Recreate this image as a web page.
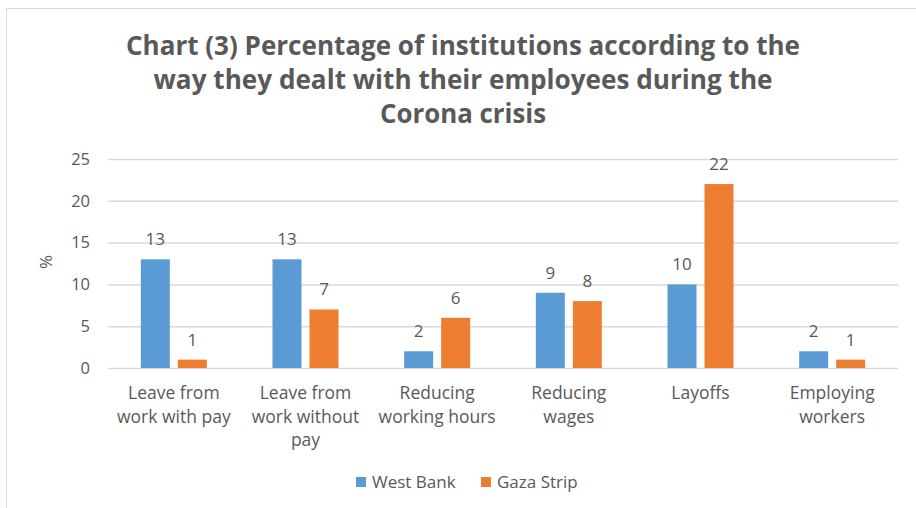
<!DOCTYPE html>
<html>
<head>
<meta charset="utf-8">
<script src="https://cdn.jsdelivr.net/npm/d3@7"></script>
<style>
  body { margin: 0; background: #fff; }
  text { font-family: "Open Sans", "DejaVu Sans", sans-serif; fill: #595959; }
</style>
</head>
<body>
<svg id="chart"></svg>
<script>
const categories = [
  "Leave from work with pay",
  "Leave from work without pay",
  "Reducing working hours",
  "Reducing wages",
  "Layoffs",
  "Employing workers"
];
const categoryLines = [
  ["Leave from", "work with pay"],
  ["Leave from", "work without", "pay"],
  ["Reducing", "working hours"],
  ["Reducing", "wages"],
  ["Layoffs"],
  ["Employing", "workers"]
];
const seriesNames = ["West Bank", "Gaza Strip"];
const westBank = [13, 13, 2, 9, 10, 2];
const gazaStrip = [1, 7, 6, 8, 22, 1];
const yTicks = [0, 5, 10, 15, 20, 25];
const titleLines = [
  "Chart (3) Percentage of institutions according to the",
  "way they dealt with their employees during the",
  "Corona crisis"
];

const colors = ["#5B9BD5", "#ED7D31"];

const getConfig = () => {
  const dimensions = {
    width: 916,
    height: 508,
    margin: { top: 159, bottom: 140, left: 108, right: 18 }
  };
  const svg = d3
    .select("#chart")
    .attr("width", dimensions.width)
    .attr("height", dimensions.height);
  return { container: svg, dimensions };
};

const getScales = config => {
  const { width, height, margin } = config.dimensions;
  const xScale = d3
    .scaleBand()
    .domain(categories)
    .range([margin.left, width - margin.right]);
  const yScale = d3
    .scaleLinear()
    .domain([0, 25])
    .range([height - margin.bottom, margin.top]);
  return { xScale, yScale };
};

const drawFrame = config => {
  const { container, dimensions } = config;
  container
    .append("rect")
    .attr("x", 6.5)
    .attr("y", 8.5)
    .attr("width", dimensions.width + 20)
    .attr("height", dimensions.height + 20)
    .attr("fill", "#fff")
    .attr("stroke", "#D9D9D9")
    .attr("stroke-width", 1);
};

const drawTitle = config => {
  const { container } = config;
  const targetWidths = [674, 619, 166];
  const baselines = [55, 89, 123];
  titleLines.forEach((line, i) => {
    container
      .append("text")
      .attr("x", 463)
      .attr("y", baselines[i])
      .attr("text-anchor", "middle")
      .attr("font-size", 26.5)
      .attr("font-weight", "bold")
      .attr("textLength", targetWidths[i])
      .attr("lengthAdjust", "spacingAndGlyphs")
      .text(line);
  });
};

const drawAxes = (config, scales) => {
  const { container, dimensions } = config;
  const { xScale, yScale } = scales;
  const { width, margin } = dimensions;

  const yAxis = d3
    .axisLeft(yScale)
    .tickValues(yTicks)
    .tickSize(-(width - margin.left - margin.right))
    .tickPadding(18);

  const yG = container
    .append("g")
    .attr("transform", `translate(${margin.left},0)`)
    .call(yAxis);
  yG.select(".domain").remove();
  yG.selectAll(".tick line")
    .attr("stroke", "#D9D9D9")
    .attr("stroke-width", 1.5);
  yG.selectAll(".tick text")
    .attr("font-size", 16.5)
    .attr("fill", "#595959");

  container
    .append("text")
    .attr("text-anchor", "middle")
    .attr("font-size", 17)
    .attr("transform", `translate(52, 262) rotate(-90)`)
    .text("%");

  const labelG = container
    .selectAll(".cat-label")
    .data(categories)
    .join("text")
    .attr("class", "cat-label")
    .attr("text-anchor", "middle")
    .attr("font-size", 17.5)
    .attr("x", d => xScale(d) + xScale.bandwidth() / 2)
    .attr("y", 399);
  labelG
    .selectAll("tspan")
    .data((d, i) => categoryLines[i].map(l => ({ l, x: xScale(d) + xScale.bandwidth() / 2 })))
    .join("tspan")
    .attr("x", d => d.x)
    .attr("dy", (d, i) => (i === 0 ? 0 : 23.5))
    .text(d => d.l);
};

const drawBars = (config, scales) => {
  const { container } = config;
  const { xScale, yScale } = scales;
  const barWidth = 29;
  const gap = 8;
  const series = [westBank, gazaStrip];

  series.forEach((values, s) => {
    const offset = s === 0 ? -gap / 2 - barWidth : gap / 2;
    const rows = categories.map((c, i) => ({ c, v: values[i] }));
    const cx = d => xScale(d.c) + xScale.bandwidth() / 2 + offset;

    container
      .append("g")
      .selectAll("rect")
      .data(rows)
      .join("rect")
      .attr("x", cx)
      .attr("y", d => yScale(d.v))
      .attr("width", barWidth)
      .attr("height", d => yScale(0) - yScale(d.v))
      .attr("fill", colors[s]);

    container
      .append("g")
      .selectAll("text")
      .data(rows)
      .join("text")
      .attr("text-anchor", "middle")
      .attr("font-size", 17)
      .attr("x", d => cx(d) + barWidth / 2)
      .attr("y", d => yScale(d.v) - 14)
      .text(d => d.v);
  });
};

const drawLegend = config => {
  const { container } = config;
  const starts = [356, 481];
  seriesNames.forEach((name, i) => {
    container
      .append("rect")
      .attr("x", starts[i])
      .attr("y", 477)
      .attr("width", 10)
      .attr("height", 10)
      .attr("fill", colors[i]);
    container
      .append("text")
      .attr("x", starts[i] + 16)
      .attr("y", 488)
      .attr("font-size", 17)
      .text(name);
  });
};

const render = () => {
  const config = getConfig();
  const scales = getScales(config);
  drawFrame(config);
  drawTitle(config);
  drawAxes(config, scales);
  drawBars(config, scales);
  drawLegend(config);
};

render();
</script>
</body>
</html>
